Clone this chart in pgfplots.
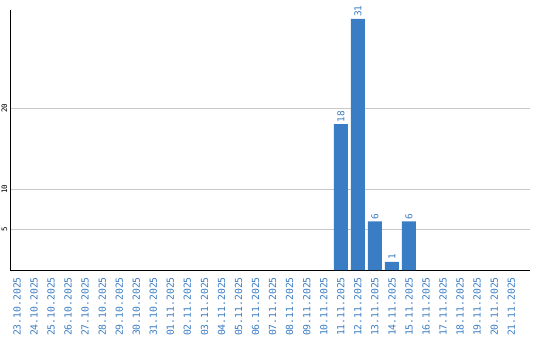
\documentclass[border=0pt]{standalone}
\usepackage{fontspec}
\usepackage{pgfplots}
\pgfplotsset{compat=1.18}
\newfontfamily\mono{DejaVu Sans Mono}
\definecolor{barblue}{HTML}{3B7DC4}
\definecolor{gridgray}{HTML}{C8C8C8}
\begin{document}
\begin{tikzpicture}
\begin{axis}[
  scale only axis,
  width=520bp, height=260bp,
  xmin=-0.41, xmax=30.1,
  ymin=0, ymax=32.1,
  axis lines=left,
  axis line style={-, black, line width=1bp},
  ymajorgrids,
  grid style={gridgray, line width=0.8bp},
  ytick={5,10,20},
  major tick length=0pt,
  xtick={0,...,29},
  xticklabels={23.10.2025,24.10.2025,25.10.2025,26.10.2025,27.10.2025,28.10.2025,29.10.2025,30.10.2025,31.10.2025,01.11.2025,02.11.2025,03.11.2025,04.11.2025,05.11.2025,06.11.2025,07.11.2025,08.11.2025,09.11.2025,10.11.2025,11.11.2025,12.11.2025,13.11.2025,14.11.2025,15.11.2025,16.11.2025,17.11.2025,18.11.2025,19.11.2025,20.11.2025,21.11.2025},
  /pgf/number format/assume math mode=true,
  xticklabel shift=7bp,
  yticklabel shift=2.5bp,
  x tick label style={font=\mono\fontsize{9.8}{10}\selectfont, text=barblue, rotate=90, anchor=east, inner sep=0pt},
  y tick label style={font=\mono\fontsize{7.5}{8}\selectfont, text=black, rotate=90, anchor=south, inner sep=0pt},
  ybar, bar width=14bp,
  nodes near coords,
  every node near coord/.append style={font=\mono\fontsize{9.5}{10}\selectfont, text=barblue, rotate=90, anchor=west, inner sep=2bp},
  clip=false,
]
\addplot[fill=barblue, draw=none] coordinates {(19,18) (20,31) (21,6) (22,1) (23,6)};
\end{axis}
\path (current axis.south west) ++(-10bp,-70bp) coordinate (bl);
\path (current axis.north east) ++(10bp,10bp) coordinate (tr);
\useasboundingbox (bl) rectangle (tr);
\end{tikzpicture}
\end{document}
